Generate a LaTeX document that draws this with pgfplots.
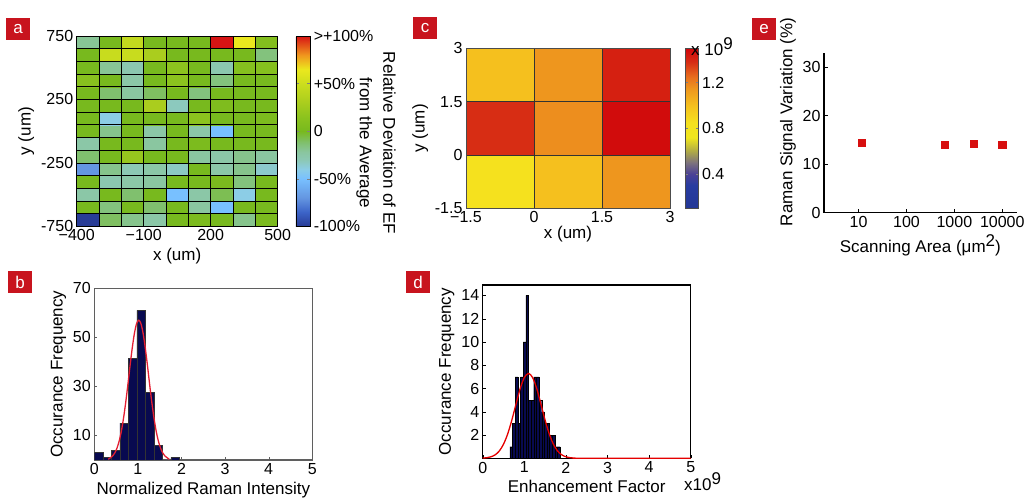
\documentclass[border=0pt]{standalone}
\usepackage{pgfplots}
\pgfplotsset{compat=1.18}
\usepackage{fontspec}
\setmainfont{Liberation Sans}
\definecolor{lblred}{RGB}{200,20,30}
\definecolor{barnavy}{RGB}{8,10,80}
\definecolor{axgray}{RGB}{95,95,95}
\definecolor{fitred}{RGB}{228,30,50}
\definecolor{ptred}{RGB}{215,15,15}
\pgfplotsset{
  every axis/.append style={scale only axis, /pgf/number format/assume math mode=true},
  tickfont/.style={tick label style={font=\fontsize{16}{18}\selectfont}},
  labfont/.style={label style={font=\fontsize{17}{20}\selectfont}},
}
\begin{document}
\begin{tikzpicture}
\useasboundingbox (0pt,0pt) rectangle (1031pt,500pt);

% ---------------- panel a ----------------
\begin{axis}[
  at={(76.7pt,273.7pt)}, anchor=south west,
  width=201pt, height=190.3pt,
  xmin=-400, xmax=500, ymin=-750, ymax=750,
  xtick={-400,-100,200,500}, xticklabels={−400,−100,200,500},
  ytick={-750,-250,250,750}, yticklabels={-750,-250,250,750},
  major tick length=0pt,
  minor xtick={-300,-200,...,400}, minor ytick={-650,-550,...,650},
  minor tick length=0pt,
  xminorgrids, yminorgrids,
  minor grid style={black, line width=0.7pt},
  axis on top,
  axis line style={black, line width=0.8pt},
  xlabel={x (um)}, ylabel={y (um)},
  tickfont, labfont,
  colormap={dev}{rgb255(0pt)=(40,60,150) rgb255(15pt)=(60,100,200) rgb255(30pt)=(100,150,225) rgb255(50pt)=(120,192,255) rgb255(60pt)=(140,205,230) rgb255(70pt)=(140,200,180) rgb255(78pt)=(138,198,160) rgb255(88pt)=(128,192,110) rgb255(100pt)=(120,185,30) rgb255(115pt)=(140,195,30) rgb255(130pt)=(170,205,30) rgb255(148pt)=(200,220,30) rgb255(165pt)=(235,232,30) rgb255(180pt)=(240,150,30) rgb255(200pt)=(215,20,20)},
  point meta min=-100, point meta max=100,
  colorbar,
  colorbar style={
    at={(parent axis.north east)}, anchor=north west, xshift=9.6pt,
    scale only axis, width=14.4pt, height=190.3pt,
    ytick={-100,-50,0,50,100},
    yticklabels={-100\%,-50\%,0,+50\%,>+100\%},
    tick label style={font=\fontsize{16}{18}\selectfont},
    major tick length=3pt,
    axis line style={black, line width=0.6pt},
  },
]
% corner grid: each corner carries the value of the cell whose lower-left corner it is
\addplot[surf, shader=flat corner, mesh/cols=10, point meta=explicit] table[meta=c, row sep=\\] {
x y c\\
-400 -750 -100\\ -300 -750 -10\\ -200 -750 -18\\ -100 -750 -25\\ 0 -750 0\\ 100 -750 3\\ 200 -750 0\\ 300 -750 -18\\ 400 -750 2\\ 500 -750 0\\
-400 -650 0\\ -300 -650 -15\\ -200 -650 0\\ -100 -650 -12\\ 0 -650 0\\ 100 -650 -22\\ 200 -650 -50\\ 300 -650 0\\ 400 -650 0\\ 500 -650 0\\
-400 -550 -25\\ -300 -550 0\\ -200 -550 -12\\ -100 -550 0\\ 0 -550 -50\\ 100 -550 -25\\ 200 -550 -8\\ 300 -550 -40\\ 400 -550 0\\ 500 -550 0\\
-400 -450 0\\ -300 -450 -28\\ -200 -450 -25\\ -100 -450 -22\\ 0 -450 0\\ 100 -450 0\\ 200 -450 2\\ 300 -450 -15\\ 400 -450 0\\ 500 -450 0\\
-400 -350 -70\\ -300 -350 -18\\ -200 -350 -30\\ -100 -350 -25\\ 0 -350 -33\\ 100 -350 0\\ 200 -350 -25\\ 300 -350 -18\\ 400 -350 -35\\ 500 -350 0\\
-400 -250 -12\\ -300 -250 0\\ -200 -250 20\\ -100 -250 0\\ 0 -250 0\\ 100 -250 -22\\ 200 -250 -25\\ 300 -250 -18\\ 400 -250 -22\\ 500 -250 0\\
-400 -150 -25\\ -300 -150 0\\ -200 -150 0\\ -100 -150 -22\\ 0 -150 0\\ 100 -150 3\\ 200 -150 0\\ 300 -150 0\\ 400 -150 0\\ 500 -150 0\\
-400 -50 0\\ -300 -50 -18\\ -200 -50 0\\ -100 -50 -25\\ 0 -50 0\\ 100 -50 -25\\ 200 -50 -50\\ 300 -50 0\\ 400 -50 0\\ 500 -50 0\\
-400 50 0\\ -300 50 -40\\ -200 50 0\\ -100 50 0\\ 0 50 0\\ 100 50 15\\ 200 50 0\\ 300 50 0\\ 400 50 3\\ 500 50 0\\
-400 150 0\\ -300 150 0\\ -200 150 0\\ -100 150 30\\ 0 150 -32\\ 100 150 0\\ 200 150 5\\ 300 150 0\\ 400 150 0\\ 500 150 0\\
-400 250 0\\ -300 250 -12\\ -200 250 -22\\ -100 250 -10\\ 0 250 0\\ 100 250 -15\\ 200 250 0\\ 300 250 0\\ 400 250 0\\ 500 250 0\\
-400 350 12\\ -300 350 0\\ -200 350 -25\\ -100 350 0\\ 0 350 15\\ 100 350 0\\ 200 350 -15\\ 300 350 0\\ 400 350 0\\ 500 350 0\\
-400 450 0\\ -300 450 -20\\ -200 450 -28\\ -100 450 0\\ 0 450 15\\ 100 450 0\\ 200 450 -28\\ 300 450 10\\ 400 450 10\\ 500 450 0\\
-400 550 0\\ -300 550 48\\ -200 550 48\\ -100 550 30\\ 0 550 0\\ 100 550 0\\ 200 550 0\\ 300 550 0\\ 400 550 -15\\ 500 550 0\\
-400 650 -20\\ -300 650 0\\ -200 650 45\\ -100 650 0\\ 0 650 0\\ 100 650 0\\ 200 650 100\\ 300 650 65\\ 400 650 8\\ 500 650 0\\
-400 750 0\\ -300 750 0\\ -200 750 0\\ -100 750 0\\ 0 750 0\\ 100 750 0\\ 200 750 0\\ 300 750 0\\ 400 750 0\\ 500 750 0\\
};
\end{axis}
\node[rotate=-90, align=center, font=\fontsize{17}{23.5}\selectfont] at (376pt,357pt) {Relative Deviation of EF\\from the Average};

% ---------------- panel c ----------------
\begin{axis}[
  at={(466pt,291.7pt)}, anchor=south west,
  width=204pt, height=160pt,
  xmin=-1.5, xmax=3, ymin=-1.5, ymax=3,
  xtick={-1.5,0,1.5,3}, xticklabels={−1.5,0,1.5,3},
  ytick={-1.5,0,1.5,3}, yticklabels={-1.5,0,1.5,3},
  major tick length=0pt,
  xmajorgrids, ymajorgrids,
  major grid style={black!80, line width=0.6pt},
  axis on top,
  axis line style={black!70, line width=0.8pt},
  xlabel={x (um)}, ylabel={y (um)},
  tickfont, labfont,
  xlabel style={yshift=4pt},
  colormap={ef}{rgb255(0pt)=(35,55,150) rgb255(20pt)=(40,60,160) rgb255(30pt)=(75,65,150) rgb255(40pt)=(125,115,125) rgb255(50pt)=(175,170,70) rgb255(62pt)=(240,230,30) rgb255(75pt)=(245,225,30) rgb255(90pt)=(245,192,30) rgb255(105pt)=(238,150,30) rgb255(115pt)=(232,110,30) rgb255(128pt)=(215,45,20) rgb255(140pt)=(208,5,10)},
  point meta min=0.1, point meta max=1.5,
  colorbar,
  colorbar style={
    at={(parent axis.north east)}, anchor=north west, xshift=6.7pt,
    scale only axis, width=13.3pt, height=160pt,
    ytick={0.4,0.8,1.2}, yticklabels={0.4,0.8,1.2},
    tick label style={font=\fontsize{16}{18}\selectfont},
    major tick length=3pt,
    axis line style={black!70, line width=0.6pt},
  },
]
\addplot[surf, shader=flat corner, mesh/cols=4, point meta=explicit] table[meta=c, row sep=\\] {
x y c\\
-1.5 -1.5 0.85\\ 0 -1.5 1.0\\ 1.5 -1.5 1.15\\ 3 -1.5 1.0\\
-1.5 0 1.38\\ 0 0 1.17\\ 1.5 0 1.48\\ 3 0 1.0\\
-1.5 1.5 1.0\\ 0 1.5 1.15\\ 1.5 1.5 1.42\\ 3 1.5 1.0\\
-1.5 3 1.0\\ 0 3 1.0\\ 1.5 3 1.0\\ 3 3 1.0\\
};
\end{axis}
\node[anchor=west, font=\fontsize{17}{20}\selectfont, inner sep=0pt] at (691pt,453pt) {x 10\raisebox{6pt}{9}};

% ---------------- panel e ----------------
\begin{axis}[
  at={(824pt,287.3pt)}, anchor=south west,
  width=192.7pt, height=160pt,
  xmode=log, xmin=1.9, xmax=20000, ymin=0, ymax=33,
  xtick={10,100,1000,10000}, xticklabels={10,100,1000,10000},
  ytick={0,10,20,30}, yticklabels={0,10,20,30},
  xminorticks=false, yminorticks=false,
  axis x line*=bottom, axis y line*=left,
  axis line style={black, line width=1.2pt},
  tick align=inside, major tick length=4pt, tick style={black, line width=0.8pt},
  xlabel={Scanning Area (μm\raisebox{6pt}{2})}, ylabel={Raman Signal Variation (\%)},
  ylabel style={at={(ticklabel cs:0.567)}},
  tickfont, labfont,
]
\addplot[only marks, mark=square*, mark size=3.6pt, color=ptred] coordinates {
(11.7,14.4) (627,14.0) (2540,14.25) (10000,14.1)
};
\end{axis}

% ---------------- panel b ----------------
\begin{axis}[
  at={(94.3pt,40pt)}, anchor=south west,
  width=218pt, height=171.7pt,
  xmin=0, xmax=5, ymin=0, ymax=70,
  xtick={0,1,2,3,4,5}, xticklabels={0,1,2,3,4,5},
  ytick={10,30,50,70}, yticklabels={10,30,50,70},
  xtick pos=bottom, ytick pos=left,
  tick align=inside, major tick length=3pt, tick style={axgray},
  axis line style={axgray, line width=1.3pt},
  xlabel={Normalized Raman Intensity}, ylabel={Occurance Frequency},
  tickfont, labfont,
]
\addplot[ybar interval, fill=barnavy, draw=black!80, line width=0.3pt] coordinates {
(0,3) (0.195,1) (0.39,4) (0.585,15) (0.78,41.5) (0.975,61) (1.17,27.5) (1.365,6) (1.56,0) (1.755,1) (1.95,0)
};
\addplot[fitred, line width=1.3pt, smooth] coordinates {
(0.32,0.3) (0.42,1.63) (0.47,2.87) (0.52,4.83) (0.57,7.7) (0.62,11.7) (0.67,17.0) (0.72,23.4) (0.77,30.7) (0.82,38.4) (0.87,45.6) (0.92,51.6) (0.97,55.6) (1.02,57) (1.07,55.6) (1.12,51.6) (1.17,45.6) (1.22,38.4) (1.27,30.7) (1.32,23.4) (1.37,17.0) (1.42,11.7) (1.47,7.7) (1.52,4.83) (1.57,2.87) (1.62,1.63) (1.72,0.3)
};
\end{axis}

% ---------------- panel d ----------------
\begin{axis}[
  at={(482.7pt,41.7pt)}, anchor=south west,
  width=208pt, height=173.3pt,
  xmin=0, xmax=5, ymin=0, ymax=14.9,
  xtick={0,1,2,3,4,5}, xticklabels={0,1,2,3,4,5},
  ytick={2,4,6,8,10,12,14}, yticklabels={2,4,6,8,10,12,14},
  xtick pos=bottom, ytick pos=left,
  tick align=inside, major tick length=3pt, tick style={black},
  axis line style={black, line width=1.3pt},
  xlabel={Enhancement Factor}, ylabel={Occurance Frequency},
  tickfont, labfont,
]
\addplot[ybar interval, fill=barnavy, draw=black, line width=0.3pt] coordinates {
(0.655,1) (0.7185,3) (0.782,7) (0.8455,3) (0.909,7) (0.9725,10) (1.036,14) (1.0995,5) (1.163,5) (1.2265,7) (1.29,7) (1.3535,5) (1.417,4) (1.4805,3) (1.544,3) (1.6075,2) (1.671,2) (1.7345,1) (1.798,1) (1.8615,0)
};
\addplot[red!90!black, line width=1.3pt, smooth] coordinates {
(0,0.02) (0.1,0.05) (0.2,0.13) (0.3,0.30) (0.4,0.63) (0.5,1.21) (0.6,2.09) (0.7,3.28) (0.8,4.65) (0.9,5.98) (1.0,6.94) (1.1,7.3) (1.2,6.94) (1.3,5.98) (1.4,4.65) (1.5,3.28) (1.6,2.09) (1.7,1.21) (1.8,0.63) (1.9,0.30) (2.0,0.13) (2.1,0.05) (2.2,0.02) (2.4,0) (5,0)
};
\end{axis}
\node[anchor=base west, font=\fontsize{17}{20}\selectfont, inner sep=0pt] at (684pt,9pt) {x10\raisebox{6pt}{9}};

% ---------------- panel labels ----------------
\tikzset{plab/.style={fill=lblred, text=white, minimum width=24pt, minimum height=22pt, inner sep=0pt, font=\fontsize{17}{17}\selectfont}}
\node[plab] at (18pt,471pt) {a};
\node[plab] at (20pt,218pt) {b};
\node[plab] at (425pt,472pt) {c};
\node[plab] at (418pt,218pt) {d};
\node[plab] at (764pt,471pt) {e};
\end{tikzpicture}
\end{document}
